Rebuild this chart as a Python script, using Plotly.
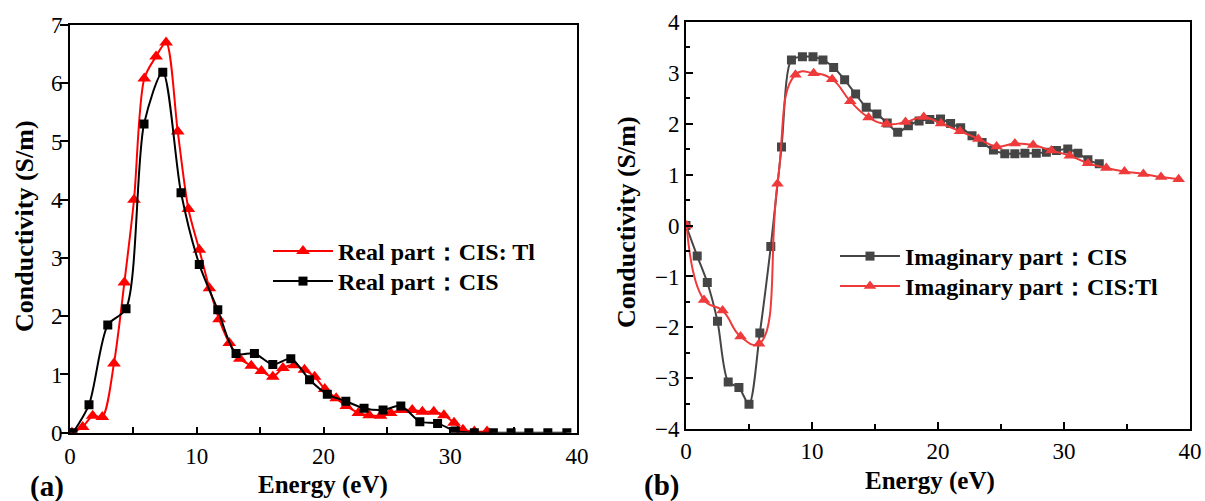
import plotly.graph_objects as go

# ---- Data (a) real part ----
real_cis_x = [0.24, 1.5, 2.98, 4.42, 5.84, 7.32, 8.76, 10.2, 11.66, 13.1, 14.55, 16.0, 17.42,
              18.9, 20.3, 21.76, 23.2, 24.7, 26.1, 27.6, 29.0, 30.4, 31.9, 33.4, 34.8, 36.2, 37.7, 39.2]
real_cis_y = [0.0, 0.48, 1.85, 2.13, 5.30, 6.19, 4.12, 2.89, 2.11, 1.36, 1.36, 1.17, 1.27,
              0.91, 0.66, 0.54, 0.42, 0.39, 0.46, 0.19, 0.16, 0.03, 0.0, 0.0, 0.0, 0.0, 0.0, 0.0]
real_tl_x = [0.15, 1.0, 1.79, 2.55, 3.47, 4.29, 5.05, 5.86, 6.79, 7.58, 8.5, 9.34, 10.2, 11.0,
             11.76, 12.57, 13.4, 14.3, 15.1, 16.0, 16.8, 17.7, 18.5, 19.3, 20.1, 21.0, 21.8,
             22.75, 23.6, 24.5, 25.3, 26.2, 27.0, 27.8, 28.7, 29.5, 30.3, 31.0, 31.9, 32.9]
real_tl_y = [0.0, 0.10, 0.29, 0.27, 1.19, 2.58, 4.0, 6.08, 6.46, 6.70, 5.17, 3.84, 3.14, 2.48,
             1.95, 1.54, 1.27, 1.15, 1.06, 0.96, 1.11, 1.16, 1.08, 0.96, 0.75, 0.59, 0.46,
             0.34, 0.30, 0.29, 0.34, 0.39, 0.39, 0.36, 0.36, 0.30, 0.17, 0.05, 0.02, 0.02]

# ---- Data (b) imaginary part ----
imag_cis_x = [0.0, 0.89, 1.69, 2.5, 3.35, 4.2, 5.0, 5.86, 6.73, 7.58, 8.37, 9.24, 10.08, 10.87,
              11.72, 12.59, 13.46, 14.3, 15.15, 15.97, 16.8, 17.65, 18.5, 19.35, 20.2, 21.0,
              21.8, 22.7, 23.5, 24.4, 25.3, 26.1, 26.9, 27.8, 28.6, 29.4, 30.3, 31.1, 31.9, 32.8]
imag_cis_y = [0.0, -0.60, -1.12, -1.88, -3.07, -3.18, -3.51, -2.11, -0.41, 1.54, 3.25, 3.31,
              3.31, 3.25, 3.10, 2.86, 2.58, 2.32, 2.19, 2.01, 1.83, 1.96, 2.05, 2.08, 2.09, 2.0,
              1.92, 1.76, 1.63, 1.48, 1.41, 1.41, 1.42, 1.42, 1.44, 1.47, 1.50, 1.42, 1.29, 1.21]
imag_tl_x = [0.05, 1.43, 2.9, 4.33, 5.8, 7.26, 8.69, 10.13, 11.6, 13.04, 14.49, 15.94, 17.42,
             18.87, 20.24, 21.75, 23.2, 24.65, 26.1, 27.55, 29.0, 30.46, 31.9, 33.36, 34.8,
             36.3, 37.7, 39.1]
imag_tl_y = [0.0, -1.46, -1.67, -2.18, -2.32, 0.82, 2.96, 2.99, 2.87, 2.44, 2.12, 1.99, 2.03,
             2.13, 2.0, 1.85, 1.70, 1.55, 1.61, 1.58, 1.47, 1.37, 1.22, 1.13, 1.06, 1.01, 0.95, 0.91]

x_ticks = [0, 10, 20, 30, 40]

FONT = "'Liberation Serif', 'Times New Roman', Times, serif"
RED = "#FF0000"
RED2 = "#EE3A3A"
GRAY = "#454545"

fig = go.Figure()

fig.add_trace(go.Scatter(x=real_tl_x, y=real_tl_y, mode="lines+markers",
                         name="<b>Real part：CIS: Tl</b>",
                         line=dict(color=RED, width=2, shape="spline", smoothing=0.8),
                         marker=dict(symbol="triangle-up", size=12, color=RED),
                         xaxis="x", yaxis="y", legend="legend"))
fig.add_trace(go.Scatter(x=real_cis_x, y=real_cis_y, mode="lines+markers",
                         name="<b>Real part：CIS</b>",
                         line=dict(color="#000000", width=2, shape="spline", smoothing=0.8),
                         marker=dict(symbol="square", size=9, color="#000000"),
                         xaxis="x", yaxis="y", legend="legend3"))

fig.add_trace(go.Scatter(x=imag_cis_x, y=imag_cis_y, mode="lines+markers",
                         name="<b>Imaginary part：CIS</b>",
                         line=dict(color=GRAY, width=2, shape="spline", smoothing=0.8),
                         marker=dict(symbol="square", size=9, color=GRAY),
                         xaxis="x2", yaxis="y2", legend="legend2"))
fig.add_trace(go.Scatter(x=imag_tl_x, y=imag_tl_y, mode="lines+markers",
                         name="<b>Imaginary part：CIS:Tl</b>",
                         line=dict(color=RED2, width=2, shape="spline", smoothing=1.3),
                         marker=dict(symbol="triangle-up", size=11, color=RED2),
                         xaxis="x2", yaxis="y2", legend="legend4"))

OFF = 0  # body margin removed by post_script below
W, H = 1205, 501
def px(x):
    return (x - OFF) / W
def py(y):
    return 1 - (y - OFF) / H

axis_common = dict(showline=True, linecolor="black", linewidth=2, mirror=True,
                   showgrid=False, zeroline=False, automargin=False,
                   tickfont=dict(family=FONT, size=23, color="black"),
                   tickcolor="black", tickwidth=2)

def leg(x, ytop):
    return dict(x=px(x), y=py(ytop), xanchor="left", yanchor="top",
                bgcolor="rgba(0,0,0,0)", font=dict(family=FONT, size=24, color="black"),
                itemwidth=60)

fig.update_layout(
    width=W, height=H,
    margin=dict(l=0, r=0, t=0, b=0, autoexpand=False),
    paper_bgcolor="white", plot_bgcolor="white",
    font=dict(family=FONT, color="black"),
    xaxis=dict(domain=[px(70), px(577)], range=[0, 40], tickvals=x_ticks,
               ticks="inside", ticklen=6, anchor="y", ticklabelstandoff=2,
               minor=dict(dtick=5, tick0=0, ticks="inside", ticklen=6, tickcolor="black", tickwidth=2),
               **axis_common),
    yaxis=dict(domain=[py(432.7), py(25)], range=[0, 7], dtick=1,
               ticks="outside", ticklen=8, anchor="x", ticklabelstandoff=-7, **axis_common),
    xaxis2=dict(domain=[px(686), px(1190)], range=[0, 40], tickvals=x_ticks,
                ticks="inside", ticklen=7, anchor="y2", ticklabeloverflow="allow",
                minor=dict(dtick=5, tick0=0, ticks="inside", ticklen=5, tickcolor="black", tickwidth=2),
                **axis_common),
    yaxis2=dict(domain=[py(429.3), py(21.7)], range=[-4, 4], dtick=1,
                ticks="inside", ticklen=7, anchor="x2",
                minor=dict(dtick=0.5, tick0=0, ticks="inside", ticklen=4, tickcolor="black", tickwidth=2),
                **axis_common),
    legend=leg(268, 229),
    legend3=leg(268, 259),
    legend2=leg(835, 234),
    legend4=leg(835, 264),
    showlegend=True,
)

def ann(text, x, y, size=25, angle=0):
    fig.add_annotation(text=text, x=px(x), y=py(y), xref="paper", yref="paper",
                       xanchor="center", yanchor="middle", textangle=angle, showarrow=False,
                       font=dict(family=FONT, size=size, color="black"))

ann("<b>Conductivity (S/m)</b>", 25, 226, 26, -90)
ann("<b>Conductivity (S/m)</b>", 627, 222, 26, -90)
ann("<b>Energy (eV)</b>", 323, 485)
ann("<b>Energy (eV)</b>", 930, 481)
ann("<b>(a)</b>", 47, 486, 29)
ann("<b>(b)</b>", 661, 485, 29)

fig.write_html("out.html", config={"displayModeBar": False},
               post_script="document.body.style.margin='0';document.body.style.overflow='hidden';")
